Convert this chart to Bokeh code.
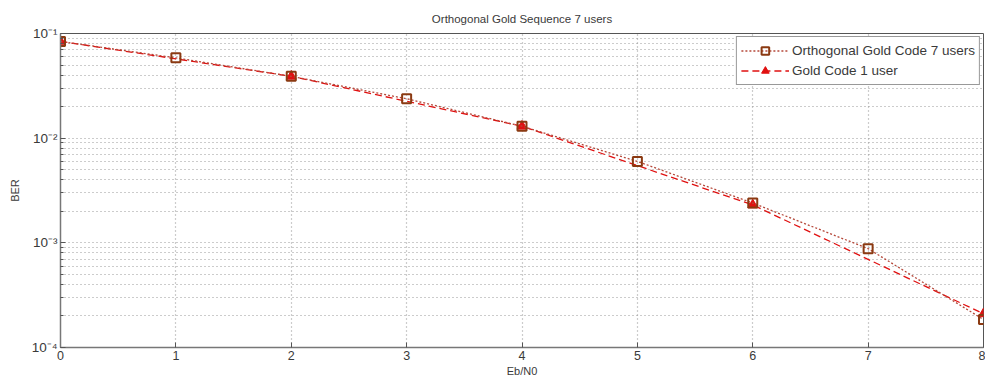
from bokeh.plotting import figure
from bokeh.models import FixedTicker, Legend, LegendItem
from bokeh.embed import file_html
from bokeh.resources import INLINE

# Eb/N0 values (dB) and measured bit error rates
eb_n0 = [0, 1, 2, 3, 4, 5, 6, 7, 8]
ber_orthogonal = [0.084, 0.0585, 0.039, 0.0238, 0.013, 0.0060, 0.0024, 0.00088, 0.000185]

eb_n0_gold = [0, 2, 4, 6, 8]
ber_gold = [0.084, 0.039, 0.013, 0.0023, 0.00021]

x_ticks = [0, 1, 2, 3, 4, 5, 6, 7, 8]
y_decades = [1e-4, 1e-3, 1e-2, 1e-1]
y_labels = ["10\u207b\u2074", "10\u207b\u00b3", "10\u207b\u00b2", "10\u207b\u00b9"]

FONT = "Liberation Sans"
TEXT = "#3a3a3a"

p = figure(
    width=985, height=381,
    y_axis_type="log",
    x_range=(0, 8), y_range=(1e-4, 1e-1),
    output_backend="svg", toolbar_location=None,
    min_border_left=60, min_border_right=2,
    min_border_top=33, min_border_bottom=34,
    title="Orthogonal Gold Sequence 7 users",
)

p.title.align = "center"
p.title.text_font = FONT
p.title.text_font_size = "11.5px"
p.title.text_font_style = "normal"
p.title.text_color = TEXT
p.title.offset = 0
p.title.standoff = 17

p.outline_line_color = "#555555"
p.outline_line_width = 1
p.background_fill_color = "white"
p.border_fill_color = "white"

# log-scale minor positions 2..9 within each decade
minor = [m * d for d in [1e-4, 1e-3, 1e-2] for m in range(2, 10)]

xa = p.xaxis[0]
xa.ticker = FixedTicker(ticks=x_ticks)
xa.axis_label = "Eb/N0"
ya = p.yaxis[0]
ya.ticker = FixedTicker(ticks=y_decades, minor_ticks=minor)
ya.major_label_overrides = {v: s for v, s in zip(y_decades, y_labels)}
ya.axis_label = "BER"

for ax in (xa, ya):
    ax.axis_line_color = "#777777"
    ax.axis_line_width = 1.5
    ax.major_tick_in = 5
    ax.major_tick_out = 0
    ax.minor_tick_in = 3
    ax.minor_tick_out = 0
    ax.major_tick_line_color = "#555555"
    ax.minor_tick_line_color = "#555555"
    ax.major_label_text_font = FONT
    ax.major_label_text_font_size = "12.5px"
    ax.major_label_text_color = TEXT
    ax.axis_label_text_font = FONT
    ax.axis_label_text_font_size = "11px"
    ax.axis_label_text_font_style = "normal"
    ax.axis_label_text_color = TEXT

ya.major_label_text_font_size = "13.5px"
xa.minor_tick_line_color = None
xa.major_label_standoff = 3
xa.axis_label_standoff = 2
ya.major_label_standoff = 3
ya.axis_label_standoff = 8

for g in (p.xgrid[0], p.ygrid[0]):
    g.grid_line_color = "#999999"
    g.grid_line_dash = "1 3"
    g.grid_line_width = 1.2
p.xgrid[0].ticker = FixedTicker(ticks=x_ticks)
p.ygrid[0].ticker = FixedTicker(ticks=y_decades, minor_ticks=minor)
p.ygrid[0].minor_grid_line_color = "#999999"
p.ygrid[0].minor_grid_line_dash = "1 3"
p.ygrid[0].minor_grid_line_width = 1.2

ORTH_LINE = "#b5483a"
ORTH_MARK = "#8b3a12"
GOLD = "#e01010"

gl = p.line(eb_n0_gold, ber_gold, line_color=GOLD, line_width=1.3, line_dash="7 4")
gm = p.scatter(eb_n0_gold, ber_gold, marker="triangle", size=10,
               fill_color=GOLD, line_color=GOLD)

ol = p.line(eb_n0, ber_orthogonal, line_color=ORTH_LINE, line_width=1.3, line_dash="2 2")
om = p.scatter(eb_n0, ber_orthogonal, marker="square", size=9,
               fill_color=None, line_color=ORTH_MARK, line_width=2)

legend = Legend(
    items=[
        LegendItem(label="Orthogonal Gold Code 7 users", renderers=[ol, om]),
        LegendItem(label="Gold Code 1 user", renderers=[gl, gm]),
    ],
    location="top_right",
    margin=3,
    padding=4,
    spacing=1,
    glyph_width=48,
    glyph_height=19,
    label_text_font=FONT,
    label_text_font_size="13.5px",
    label_text_color=TEXT,
    label_standoff=3,
    border_line_color="#333333",
    border_line_width=1,
    background_fill_color="white",
    background_fill_alpha=1,
)
p.add_layout(legend, "center")

open("out.html", "w").write(file_html(p, INLINE))
